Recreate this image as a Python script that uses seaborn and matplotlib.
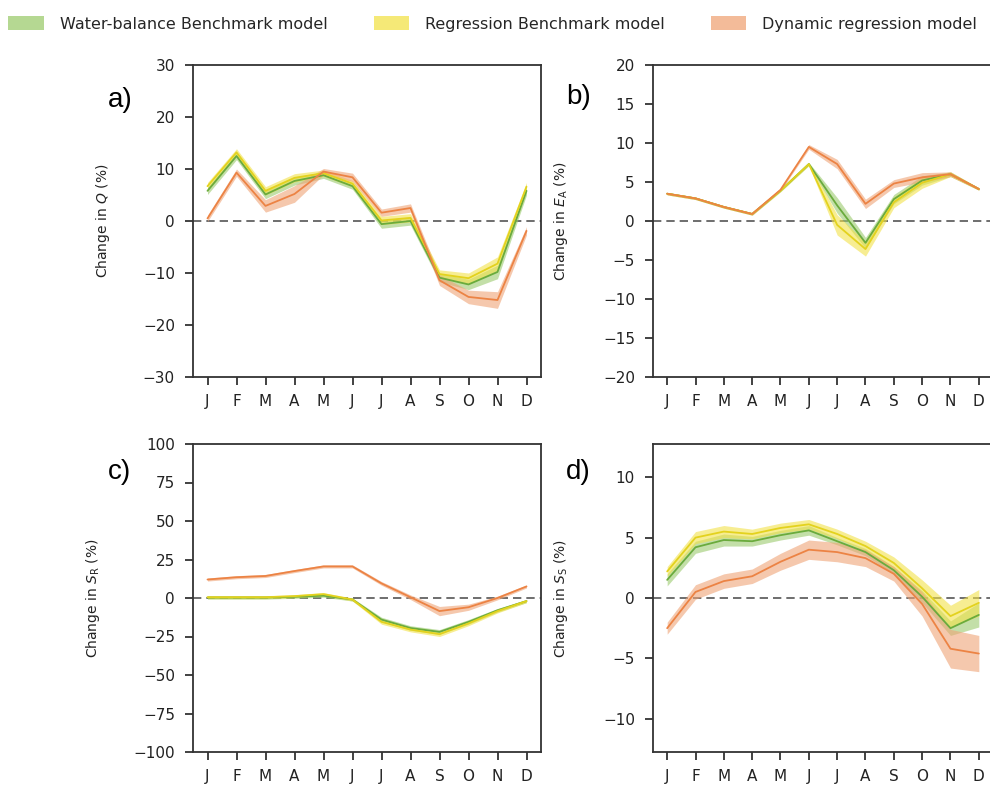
import numpy as np
import pandas as pd
import matplotlib
matplotlib.use("Agg")
import matplotlib.pyplot as plt
from matplotlib.patches import Patch
import seaborn as sns

MONTHS = ["J", "F", "M", "A", "M", "J", "J", "A", "S", "O", "N", "D"]
SERIES = ["Water-balance Benchmark model", "Regression Benchmark model", "Dynamic regression model"]

# Panel a: change in Q (%)
Q_WB = [5.8, 12.5, 5.1, 7.7, 8.8, 6.7, -0.6, 0.0, -10.9, -12.2, -9.8, 5.8]
Q_RB = [6.7, 13.2, 5.8, 8.3, 9.2, 7.2, 0.1, 0.6, -10.2, -11.0, -8.2, 6.6]
Q_DR = [0.5, 9.3, 2.9, 5.2, 9.5, 8.4, 1.6, 2.5, -11.4, -14.6, -15.2, -1.9]
Q_WB_W = [0.7, 0.7, 0.8, 0.8, 0.6, 0.6, 0.8, 0.8, 0.8, 1.0, 1.3, 0.8]
Q_RB_W = [0.7, 0.7, 0.8, 0.8, 0.6, 0.6, 0.8, 0.8, 0.8, 1.0, 1.3, 0.8]
Q_DR_W = [0.6, 0.7, 1.2, 1.6, 0.6, 0.8, 0.7, 0.8, 1.0, 1.3, 1.6, 0.8]

# Panel b: change in E_A (%)
E_WB = [3.5, 2.9, 1.8, 0.9, 3.9, 7.3, 2.0, -2.8, 2.8, 5.2, 6.0, 4.1]
E_RB = [3.5, 2.9, 1.8, 0.9, 3.9, 7.3, -0.5, -3.6, 2.4, 4.9, 6.0, 4.1]
E_DR = [3.5, 2.9, 1.8, 0.9, 4.0, 9.5, 7.3, 2.2, 4.8, 5.6, 6.0, 4.1]
E_WB_W = [0.15, 0.15, 0.15, 0.15, 0.15, 0.2, 1.0, 0.7, 0.6, 0.6, 0.3, 0.15]
E_RB_W = [0.15, 0.15, 0.15, 0.15, 0.15, 0.2, 1.3, 0.9, 0.7, 0.7, 0.3, 0.15]
E_DR_W = [0.15, 0.15, 0.15, 0.15, 0.15, 0.3, 0.6, 0.6, 0.5, 0.6, 0.3, 0.15]

# Panel c: change in S_R (%)
SR_WB = [0.3, 0.3, 0.3, 0.8, 1.5, -1.0, -14.0, -19.5, -22.0, -15.5, -8.0, -2.0]
SR_RB = [0.5, 0.5, 0.5, 1.2, 2.5, -1.0, -15.5, -20.5, -23.5, -16.5, -8.5, -2.0]
SR_DR = [12.0, 13.5, 14.3, 17.5, 20.5, 20.5, 9.5, 0.5, -8.5, -6.0, 0.0, 7.5]
SR_WB_W = [1.0, 1.0, 1.0, 1.0, 1.0, 1.0, 1.5, 1.5, 1.5, 1.5, 1.2, 1.0]
SR_RB_W = [1.0, 1.0, 1.0, 1.0, 1.0, 1.0, 1.5, 1.5, 1.5, 1.5, 1.2, 1.0]
SR_DR_W = [1.0, 1.0, 1.0, 1.0, 1.0, 1.0, 1.2, 1.5, 3.0, 2.0, 1.2, 1.0]

# Panel d: change in S_S (%)
SS_WB = [1.5, 4.2, 4.8, 4.7, 5.2, 5.6, 4.7, 3.8, 2.3, 0.1, -2.5, -1.4]
SS_RB = [2.2, 5.0, 5.5, 5.3, 5.8, 6.1, 5.3, 4.3, 2.9, 0.8, -1.5, -0.4]
SS_DR = [-2.5, 0.5, 1.4, 1.8, 3.0, 4.0, 3.8, 3.3, 2.0, -0.5, -4.2, -4.6]
SS_WB_W = [0.5, 0.5, 0.5, 0.4, 0.4, 0.4, 0.3, 0.3, 0.3, 0.5, 0.6, 1.0]
SS_RB_W = [0.4, 0.5, 0.5, 0.4, 0.4, 0.4, 0.4, 0.4, 0.5, 0.7, 0.9, 1.1]
SS_DR_W = [0.5, 0.6, 0.6, 0.6, 0.7, 0.8, 0.8, 0.7, 0.6, 1.0, 1.6, 1.5]

LINE_COLORS = ["#6aab3c", "#e3d21e", "#ec8344"]
FILL_COLORS = ["#9ccb6e", "#f2e24a", "#efa477"]

sns.set_theme(style="ticks")
plt.rcParams["font.family"] = ["DejaVu Sans"]

W, H = 990, 787
fig = plt.figure(figsize=(W / 100, H / 100), dpi=100)

aw_left = 348 / W
aw_right = 340 / W
pos = {
    "a": [193 / W, 1 - 377 / H, aw_left, (377 - 65) / H],
    "b": [653 / W, 1 - 377 / H, aw_right, (377 - 65) / H],
    "c": [193 / W, 1 - 752 / H, aw_left, (752 - 444) / H],
    "d": [653 / W, 1 - 752 / H, aw_right, (752 - 444) / H],
}

panels = [
    ("a", (Q_WB, Q_RB, Q_DR), (Q_WB_W, Q_RB_W, Q_DR_W), (-30, 30), np.arange(-30, 31, 10),
     r"Change in $Q$ (%)", -0.233),
    ("b", (E_WB, E_RB, E_DR), (E_WB_W, E_RB_W, E_DR_W), (-20, 20), np.arange(-20, 21, 5),
     r"Change in $E_\mathrm{A}$ (%)", -0.245),
    ("c", (SR_WB, SR_RB, SR_DR), (SR_WB_W, SR_RB_W, SR_DR_W), (-100, 100), np.arange(-100, 101, 25),
     r"Change in $S_\mathrm{R}$ (%)", -0.262),
    ("d", (SS_WB, SS_RB, SS_DR), (SS_WB_W, SS_RB_W, SS_DR_W), (-12.75, 12.75), np.arange(-10, 11, 5),
     r"Change in $S_\mathrm{S}$ (%)", -0.245),
]

letter_pos = {"a": (108, 100), "b": (566, 97), "c": (108, 472), "d": (566, 472)}

x = np.arange(12)
for key, means, widths, ylim, yticks, ylabel, lx in panels:
    ax = fig.add_axes(pos[key])
    ax.axhline(0, color="#555555", lw=1.2, ls=(0, (5, 3)), zorder=1)
    for i in range(3):
        m = np.array(means[i])
        w = np.array(widths[i])
        ax.fill_between(x, m - w, m + w, color=FILL_COLORS[i], alpha=0.6, lw=0, zorder=2 + i)
        df = pd.DataFrame({"month": x, "value": m})
        sns.lineplot(data=df, x="month", y="value", ax=ax, color=LINE_COLORS[i], lw=1.3, zorder=5 + i)
    ax.set_xlim(-0.5, 11.5)
    ax.set_ylim(*ylim)
    ax.set_yticks(yticks)
    ax.set_xticks(x)
    ax.set_xticklabels(MONTHS)
    ax.set_xlabel("")
    ax.set_ylabel(ylabel, fontsize=10, color="#222222")
    ax.yaxis.set_label_coords(lx, 0.5)
    ax.tick_params(axis="both", length=6, width=1.3, color="#333333", labelsize=11,
                   labelcolor="#222222", direction="out")
    ax.tick_params(axis="y", pad=7)
    ax.tick_params(axis="x", pad=6)
    for sp in ax.spines.values():
        sp.set_linewidth(1.3)
        sp.set_color("#333333")
    lxp, lyp = letter_pos[key]
    fig.text(lxp / W, 1 - lyp / H, key + ")", fontsize=20, family="Liberation Sans",
             ha="left", va="center", color="black")

handles = [Patch(facecolor=FILL_COLORS[i], edgecolor="none", alpha=0.75) for i in range(3)]
fig.legend(handles, SERIES, loc="center left", bbox_to_anchor=(-0.006, 1 - 24 / H), ncol=3,
           frameon=False, fontsize=11.5, handlelength=2.2, handleheight=0.9, columnspacing=2.9,
           handletextpad=1.0)

fig.savefig("out.png", dpi=100)
